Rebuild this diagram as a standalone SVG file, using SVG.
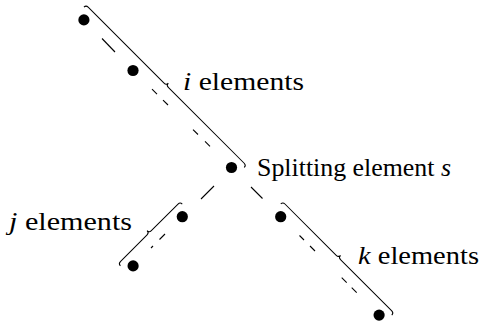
<svg xmlns="http://www.w3.org/2000/svg" width="481" height="322" viewBox="0 0 481 322">
<style>
.dot{fill:#000}
.dash{stroke:#000;stroke-width:1.1;fill:none}
.brace{stroke:#000;stroke-width:1;fill:none}
.lbl{font-family:"Liberation Serif","Times New Roman",serif;font-size:26px;fill:#000}
.it{font-style:italic}
</style>
<rect width="481" height="322" fill="#fff"/>
<g id="connectors">
<line class="dash" x1="102" y1="38.5" x2="115" y2="52"/>
<line class="dash" x1="152" y1="89.2" x2="157" y2="94.1"/>
<line class="dash" x1="163" y1="100.1" x2="168" y2="105"/>
<line class="dash" x1="193" y1="129.6" x2="198" y2="134.5"/>
<line class="dash" x1="205" y1="141.4" x2="210" y2="146.3"/>
<line class="dash" x1="201" y1="199" x2="214" y2="186"/>
<line class="dash" x1="151" y1="248" x2="153" y2="246"/>
<line class="dash" x1="159.5" y1="239.5" x2="165" y2="234"/>
<line class="dash" x1="251" y1="187" x2="262.5" y2="198.5"/>
<line class="dash" x1="299.5" y1="235.5" x2="304" y2="240"/>
<line class="dash" x1="310" y1="246" x2="315" y2="251"/>
<line class="dash" x1="341.7" y1="277.7" x2="346.7" y2="282.7"/>
<line class="dash" x1="351.7" y1="287.7" x2="356.7" y2="292.7"/>
</g>
<g id="brace-i">
<path class="brace" transform="translate(83.9,7.2) rotate(45)" d="M0,0 Q0,-3 3,-3 L110.35,-3 Q113.35,-3 113.35,-6 Q113.35,-3 116.35,-3 L223.7,-3 Q226.7,-3 226.7,0"/>
<text class="lbl" x="183" y="90" textLength="121" lengthAdjust="spacingAndGlyphs"><tspan class="it">i</tspan> elements</text>
</g>
<g id="brace-j">
<path class="brace" transform="translate(120.4,265.9) rotate(-45)" d="M0,0 Q0,-3 3,-3 L40.75,-3 Q43.75,-3 43.75,-6 Q43.75,-3 46.75,-3 L84.5,-3 Q87.5,-3 87.5,0"/>
<text class="lbl" x="9" y="230" textLength="123" lengthAdjust="spacingAndGlyphs"><tspan class="it">j</tspan> elements</text>
</g>
<g id="brace-k">
<path class="brace" transform="translate(280.7,204) rotate(45)" d="M0,0 Q0,-3 3,-3 L75.55,-3 Q78.55,-3 78.55,-6 Q78.55,-3 81.55,-3 L154.1,-3 Q157.1,-3 157.1,0"/>
<text class="lbl" x="358" y="263.5" textLength="121" lengthAdjust="spacingAndGlyphs"><tspan class="it">k</tspan> elements</text>
</g>
<g id="node-i1"><circle class="dot" cx="83.9" cy="19.9" r="5.6"/></g>
<g id="node-i2"><circle class="dot" cx="133" cy="70.5" r="5.6"/></g>
<g id="node-s">
<circle class="dot" cx="231.5" cy="167.5" r="5.6"/>
<text class="lbl" x="257" y="176" textLength="194" lengthAdjust="spacingAndGlyphs">Splitting element <tspan class="it">s</tspan></text>
</g>
<g id="node-j1"><circle class="dot" cx="182.3" cy="216.7" r="5.6"/></g>
<g id="node-j2"><circle class="dot" cx="133.1" cy="265.9" r="5.6"/></g>
<g id="node-k1"><circle class="dot" cx="280.7" cy="216.7" r="5.6"/></g>
<g id="node-k2"><circle class="dot" cx="379.1" cy="315.1" r="5.6"/></g>
</svg>
